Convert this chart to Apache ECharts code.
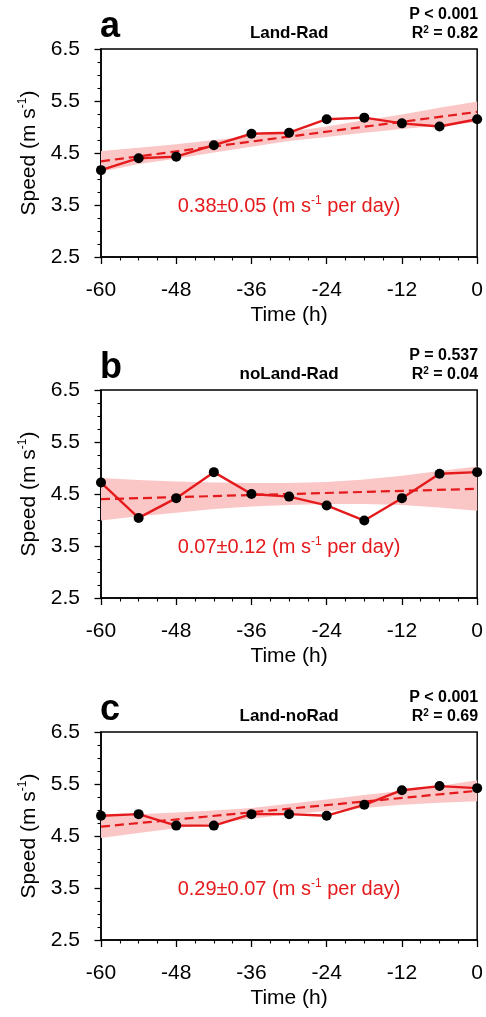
<!DOCTYPE html>
<html><head><meta charset="utf-8">
<script src="https://cdn.jsdelivr.net/npm/echarts@6/dist/echarts.min.js"></script>
<style>html,body{margin:0;padding:0;background:#fff}#c{width:486px;height:1017px}</style>
</head><body><div id="c"></div>
<script>
// ---------- data ----------
const hours = [-60, -54, -48, -42, -36, -30, -24, -18, -12, -6, 0];
const speedA = [4.17, 4.40, 4.43, 4.65, 4.87, 4.89, 5.15, 5.18, 5.07, 5.01, 5.15];
const speedB = [4.72, 4.04, 4.42, 4.92, 4.50, 4.45, 4.28, 3.99, 4.42, 4.89, 4.92];
const speedC = [4.89, 4.92, 4.70, 4.70, 4.92, 4.92, 4.89, 5.10, 5.38, 5.46, 5.42];
// fitted trend at -60 h and 0 h
const trendHours = [-60, 0];
const trendA = [4.34, 5.29];
const trendB = [4.40, 4.60];
const trendC = [4.68, 5.37];
// confidence band (upper / lower) at each hour
const upperA = [4.54, 4.60, 4.67, 4.75, 4.82, 4.91, 5.01, 5.13, 5.24, 5.37, 5.49];
const lowerA = [4.14, 4.29, 4.39, 4.51, 4.62, 4.73, 4.81, 4.89, 4.96, 5.03, 5.09];
const upperB = [4.81, 4.77, 4.74, 4.72, 4.71, 4.71, 4.73, 4.78, 4.85, 4.94, 5.03];
const lowerB = [3.99, 4.07, 4.14, 4.21, 4.26, 4.29, 4.31, 4.31, 4.29, 4.24, 4.18];
const upperC = [4.90, 4.92, 4.95, 4.99, 5.04, 5.12, 5.20, 5.29, 5.37, 5.46, 5.57];
const lowerC = [4.46, 4.56, 4.65, 4.74, 4.83, 4.92, 4.98, 5.04, 5.10, 5.14, 5.17];
// texts
const panelLetters = ['a', 'b', 'c'];
const panelNames = ['Land-Rad', 'noLand-Rad', 'Land-noRad'];
const pTexts = ['P < 0.001', 'P = 0.537', 'P < 0.001'];
const r2Values = ['0.82', '0.04', '0.69'];
const slopeTexts = ['0.38\u00b10.05', '0.07\u00b10.12', '0.29\u00b10.07'];
const xAxisName = 'Time (h)';
const yAxisName = 'Speed (m s';

// ---------- style / layout ----------
const FONT = '"Liberation Sans", Arial, Helvetica, sans-serif';
const RED = '#e41a1c';
const BAND = '#fbc6c6';
const gridTops = [49, 390, 732];
const gridH = 208;

const speeds = [speedA, speedB, speedC];
const trends = [trendA, trendB, trendC];
const uppers = [upperA, upperB, upperC];
const lowers = [lowerA, lowerB, lowerC];

const grids = [], xAxes = [], yAxes = [], series = [];
for (let i = 0; i < 3; i++) {
  grids.push({left: 101, right: 7, top: gridTops[i], height: gridH, show: true,
    borderColor: '#000', borderWidth: 1.5, backgroundColor: 'transparent'});
  xAxes.push({type: 'value', gridIndex: i, min: -60, max: 0, interval: 12,
    name: xAxisName, nameLocation: 'middle', nameGap: 48,
    nameTextStyle: {fontFamily: FONT, fontSize: 21, color: '#000'},
    axisLine: {show: true, onZero: false, lineStyle: {color: '#000', width: 1.5}},
    axisTick: {show: true, inside: false, length: 7, lineStyle: {color: '#000', width: 1.3}},
    minorTick: {show: true, splitNumber: 4, length: 3.5, lineStyle: {color: '#000', width: 1.1}},
    splitLine: {show: false},
    axisLabel: {fontFamily: FONT, fontSize: 21, color: '#000', margin: 23}});
  yAxes.push({type: 'value', gridIndex: i, min: 2.5, max: 6.5, interval: 1,
    name: '{n|' + yAxisName + '}{s|-1}{n|)}', nameLocation: 'middle', nameGap: 60, nameRotate: 90,
    nameTextStyle: {fontFamily: FONT, fontSize: 21, color: '#000',
      rich: {n: {fontFamily: FONT, fontSize: 21, color: '#000', lineHeight: 24},
             s: {fontFamily: FONT, fontSize: 12, color: '#000', verticalAlign: 'top', lineHeight: 12}}},
    axisLine: {show: true, onZero: false, lineStyle: {color: '#000', width: 1.5}},
    axisTick: {show: true, inside: false, length: 6.5, lineStyle: {color: '#000', width: 1.3}},
    minorTick: {show: true, splitNumber: 4, length: 3.5, lineStyle: {color: '#000', width: 1.1}},
    splitLine: {show: false},
    axisLabel: {fontFamily: FONT, fontSize: 21, color: '#000', margin: 21,
      formatter: v => v.toFixed(1)}});
  const up = uppers[i], lo = lowers[i];
  series.push({type: 'custom', xAxisIndex: i, yAxisIndex: i, silent: true, z: 1,
    data: hours.map((h, k) => [h, lo[k], up[k]]),
    encode: {x: 0, y: [1, 2]},
    renderItem: (params, api) => {
      if (params.dataIndex !== 0) return null;
      const pts = [];
      for (let k = 0; k < hours.length; k++) pts.push(api.coord([hours[k], up[k]]));
      for (let k = hours.length - 1; k >= 0; k--) pts.push(api.coord([hours[k], lo[k]]));
      return {type: 'polygon', shape: {points: pts}, style: {fill: BAND}};
    }});
  series.push({type: 'line', xAxisIndex: i, yAxisIndex: i, z: 3, showSymbol: false,
    data: trendHours.map((h, k) => [h, trends[i][k]]),
    lineStyle: {color: RED, width: 2.2, type: [9, 5]}, silent: true});
  series.push({type: 'line', xAxisIndex: i, yAxisIndex: i, z: 4,
    data: hours.map((h, k) => [h, speeds[i][k]]),
    symbol: 'circle', symbolSize: 10, showSymbol: true,
    itemStyle: {color: '#000'}, lineStyle: {color: RED, width: 2.4}, silent: true});
}

const chart = echarts.init(document.getElementById('c'), null, {renderer: 'canvas'});
chart.setOption({animation: false, backgroundColor: '#fff', grid: grids, xAxis: xAxes, yAxis: yAxes, series: series});

const graphics = [];
for (let i = 0; i < 3; i++) {
  const tl = chart.convertToPixel({gridIndex: i}, [-60, 6.5]);
  const tr = chart.convertToPixel({gridIndex: i}, [0, 6.5]);
  const mid = chart.convertToPixel({gridIndex: i}, [-30, 3.5]);
  const top = tl[1];
  graphics.push({type: 'text', x: tl[0] - 1, y: top - 22, silent: true,
    style: {text: panelLetters[i], font: 'bold 36px ' + FONT, fill: '#000', align: 'left', verticalAlign: 'middle'}});
  graphics.push({type: 'text', x: mid[0], y: top - 15.5, silent: true,
    style: {text: panelNames[i], font: 'bold 17px ' + FONT, fill: '#000', align: 'center', verticalAlign: 'middle'}});
  graphics.push({type: 'text', x: tr[0] + 1, y: top - 34, silent: true,
    style: {text: pTexts[i], font: 'bold 16px ' + FONT, fill: '#000', align: 'right', verticalAlign: 'middle'}});
  graphics.push({type: 'text', x: tr[0] + 1, y: top - 15, silent: true,
    style: {text: '{b|R}{s|2}{b| = ' + r2Values[i] + '}', align: 'right', verticalAlign: 'middle',
      rich: {b: {font: 'bold 16px ' + FONT, fill: '#000', lineHeight: 18},
             s: {font: 'bold 10px ' + FONT, fill: '#000', verticalAlign: 'top', lineHeight: 10}}}});
  graphics.push({type: 'text', x: mid[0], y: mid[1] + 1, silent: true,
    style: {text: '{n|' + slopeTexts[i] + ' (m s}{s|-1}{n| per day)}', align: 'center', verticalAlign: 'middle',
      rich: {n: {fontFamily: FONT, fontSize: 20, fill: RED, lineHeight: 22},
             s: {fontFamily: FONT, fontSize: 12, fill: RED, verticalAlign: 'top', lineHeight: 12}}}});
}
chart.setOption({graphic: graphics});
</script>
</body></html>
